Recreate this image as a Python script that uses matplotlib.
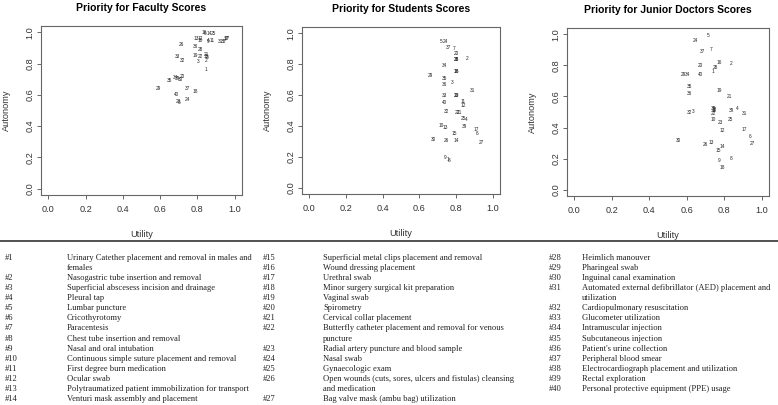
# priority scores: autonomy vs utility for three groups + procedure key below
import matplotlib
matplotlib.use('Agg')
import matplotlib.pyplot as plt
from matplotlib.lines import Line2D

plt.rcParams['font.family'] = ['Liberation Sans', 'DejaVu Sans']

# procedure ids 1..40
procedure_ids = list(range(1, 41))

# faculty scores (utility, autonomy)
faculty_utility = [0.845, 0.845, 0.805, 0.860, 0.703, 0.842, 0.950, 0.850, 0.857, 0.818,
                   0.877, 0.815, 0.795, 0.862, 0.848, 0.838, 0.955, 0.790, 0.787, 0.720,
                   0.850, 0.817, 0.700, 0.748, 0.889, 0.716, 0.962, 0.815, 0.590, 0.710,
                   0.925, 0.720, 0.695, 0.685, 0.648, 0.792, 0.746, 0.942, 0.695, 0.690]
faculty_autonomy = [0.760, 0.820, 0.815, 0.945, 0.548, 0.995, 0.955, 0.840, 0.942, 0.945,
                    0.948, 0.962, 0.962, 0.990, 0.848, 1.000, 0.958, 0.620, 0.852, 0.715,
                    0.855, 0.842, 0.556, 0.572, 0.990, 0.923, 0.962, 0.893, 0.642, 0.700,
                    0.940, 0.822, 0.845, 0.710, 0.690, 0.910, 0.642, 0.942, 0.707, 0.600]

# students scores
student_utility = [0.757, 0.858, 0.778, 0.858, 0.721, 0.915, 0.789, 0.762, 0.739, 0.717,
                   0.838, 0.838, 0.742, 0.800, 0.789, 0.800, 0.908, 0.800, 0.800, 0.800,
                   0.820, 0.805, 0.800, 0.744, 0.838, 0.748, 0.937, 0.800, 0.659, 0.677,
                   0.888, 0.750, 0.739, 0.739, 0.739, 0.739, 0.759, 0.800, 0.847, 0.739]
student_autonomy = [0.183, 0.838, 0.681, 0.443, 0.947, 0.353, 0.900, 0.178, 0.198, 0.406,
                    0.555, 0.534, 0.387, 0.304, 0.353, 0.749, 0.374, 0.749, 0.600, 0.868,
                    0.487, 0.487, 0.600, 0.947, 0.451, 0.304, 0.294, 0.830, 0.728, 0.313,
                    0.630, 0.494, 0.600, 0.789, 0.709, 0.668, 0.909, 0.830, 0.396, 0.551]

# junior doctors scores
junior_utility = [0.741, 0.839, 0.634, 0.871, 0.713, 0.938, 0.732, 0.839, 0.771, 0.744,
                  0.746, 0.792, 0.732, 0.792, 0.771, 0.772, 0.910, 0.792, 0.772, 0.672,
                  0.831, 0.744, 0.781, 0.644, 0.836, 0.702, 0.951, 0.753, 0.582, 0.556,
                  0.910, 0.614, 0.746, 0.605, 0.614, 0.614, 0.683, 0.744, 0.841, 0.672]
junior_autonomy = [0.760, 0.811, 0.505, 0.521, 0.994, 0.340, 0.902, 0.200, 0.191, 0.451,
                   0.507, 0.379, 0.302, 0.279, 0.251, 0.821, 0.389, 0.143, 0.640, 0.800,
                   0.600, 0.491, 0.432, 0.960, 0.451, 0.289, 0.300, 0.789, 0.740, 0.319,
                   0.489, 0.500, 0.518, 0.740, 0.662, 0.619, 0.889, 0.523, 0.510, 0.740]

titles = ['Priority for Faculty Scores', 'Priority for Students Scores',
          'Priority for Junior Doctors Scores']

# names of the procedures (line breaks as in the original key)
procedure_names = [
    'Urinary Catether placement and removal in males and\nfemales',
    'Nasogastric tube insertion and removal',
    'Superficial abscesess incision and drainage',
    'Pleural tap',
    'Lumbar puncture',
    'Cricothyrotomy',
    'Paracentesis',
    'Chest tube insertion and removal',
    'Nasal and oral intubation',
    'Continuous simple suture placement and removal',
    'First degree burn medication',
    'Ocular swab',
    'Polytraumatized patient immobilization for transport',
    'Venturi mask assembly and placement',
    'Superficial metal clips placement and removal',
    'Wound dressing placement',
    'Urethral swab',
    'Minor surgery surgical kit preparation',
    'Vaginal swab',
    'Spirometry',
    'Cervical collar placement',
    'Butterfly catheter placement and removal for venous\npuncture',
    'Radial artery puncture and blood sample',
    'Nasal swab',
    'Gynaecologic exam',
    'Open wounds (cuts, sores, ulcers and fistulas) cleansing\nand medication',
    'Bag valve mask (ambu bag) utilization',
    'Heimlich manouver',
    'Pharingeal swab',
    'Inguinal canal examination',
    'Automated external defibrillator (AED) placement and\nutilization',
    'Cardiopulmonary resuscitation',
    'Glucometer utilization',
    'Intramuscular injection',
    'Subcutaneous injection',
    "Patient's urine collection",
    'Peripheral blood smear',
    'Electrocardiograph placement and utilization',
    'Rectal exploration',
    'Personal protective equipment (PPE) usage',
]
key_columns = [(1, 14), (15, 27), (28, 40)]

W, H = 778, 405
fig = plt.figure(figsize=(W / 100, H / 100), dpi=100)

def px_box(left, top, right, bottom):
    return [left / W, 1 - bottom / H, (right - left) / W, (bottom - top) / H]

panel_boxes = [px_box(41, 26, 242, 195), px_box(302, 27, 500, 194), px_box(567, 28, 769, 196)]
panel_data = [(faculty_utility, faculty_autonomy),
              (student_utility, student_autonomy),
              (junior_utility, junior_autonomy)]

ticks = [0.0, 0.2, 0.4, 0.6, 0.8, 1.0]
box_color = '#666666'

for box, (util, auto), title in zip(panel_boxes, panel_data, titles):
    ax = fig.add_axes(box)
    ax.set_xlim(-0.04, 1.04)
    ax.set_ylim(-0.04, 1.04)
    for pid, u, a in zip(procedure_ids, util, auto):
        ax.text(u, a, str(pid), fontsize=3.4, ha='center', va='center', color='#222222')
    ax.set_xticks(ticks)
    ax.set_xticklabels(['%.1f' % t for t in ticks])
    ax.set_yticks(ticks)
    ax.set_yticklabels(['%.1f' % t for t in ticks], rotation=90, va='center')
    ax.tick_params(axis='both', length=3, width=0.7, color=box_color, labelsize=6.6,
                   labelcolor='#333333')
    ax.tick_params(axis='x', pad=4)
    ax.tick_params(axis='y', pad=1.5)
    for s in ax.spines.values():
        s.set_color(box_color)
        s.set_linewidth(0.8)
    ax.set_title(title, fontsize=7.5, fontweight='bold', pad=11)
    ax.set_xlabel('Utility', fontsize=6.6, color='#333333')
    ax.set_ylabel('Autonomy', fontsize=6.6, color='#333333')
    ax.xaxis.set_label_coords(0.5, -0.21)
    ax.yaxis.set_label_coords(-0.15, 0.5)

# separator line above the key
sep_y = 1 - 241 / H
fig.add_artist(Line2D([0, 1], [sep_y, sep_y], transform=fig.transFigure,
                      color='#333333', linewidth=1.2))

# key of procedures in three columns
num_x = [5, 263, 549]
text_x = [67, 323, 582]
row0, row_step = 258, 10.07
for col, (first, last) in enumerate(key_columns):
    row = 0
    for pid in range(first, last + 1):
        lines = procedure_names[pid - 1].split('\n')
        y = 1 - (row0 + row * row_step) / H
        fig.text(num_x[col] / W, y, '#%d' % pid, fontsize=6.1, family='Liberation Serif',
                 va='center', color='#222222')
        for k, line in enumerate(lines):
            yk = 1 - (row0 + (row + k) * row_step) / H
            fig.text(text_x[col] / W, yk, line, fontsize=6.1, family='Liberation Serif',
                     va='center', color='#222222')
        row += len(lines)

fig.savefig('out.png', dpi=100)
